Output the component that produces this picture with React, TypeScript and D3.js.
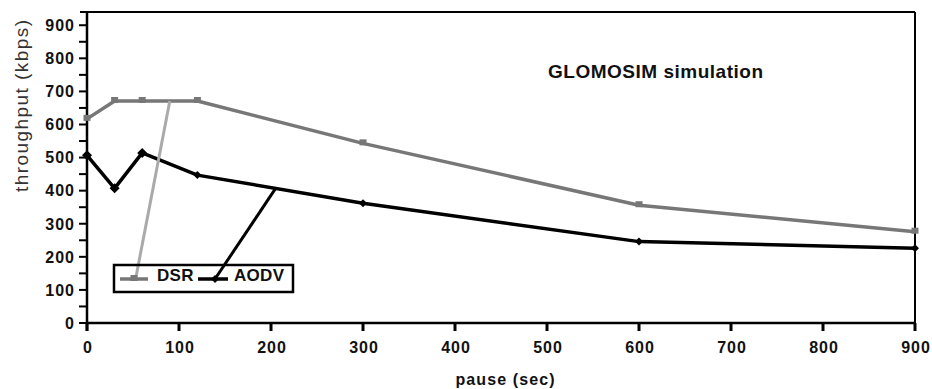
import React from 'react';
import * as d3 from 'd3';

// pause time (sec) and throughput (kbps)
const pauses = [0, 30, 60, 120, 300, 600, 900];
const dsr = [617, 671, 671, 671, 543, 356, 276];
const aodv = [507, 407, 514, 447, 362, 246, 226];
const xTicks = [0, 100, 200, 300, 400, 500, 600, 700, 800, 900];
const yTicks = [0, 100, 200, 300, 400, 500, 600, 700, 800, 900];
const yMinor = d3.range(0, 901, 50);
// where the legend leader lines touch each series (pause value)
const dsrLeaderAt = 90;
const aodvLeaderAt = 205;

const W = 932;
const H = 389;
const FONT = 'Liberation Sans, Arial, sans-serif';

const App: React.FC = () => {
  const x = d3.scaleLinear().domain([0, 900]).range([87, 915]);
  const y = d3.scaleLinear().domain([0, 940]).range([323, 12]);

  const line = d3.line<number>()
    .x((d, i) => x(pauses[i]))
    .y(d => y(d));

  const interp = (vals: number[], p: number) => {
    const i = d3.bisectRight(pauses, p) - 1;
    const t = (p - pauses[i]) / (pauses[i + 1] - pauses[i]);
    return vals[i] + t * (vals[i + 1] - vals[i]);
  };

  const [x0, x1] = x.range();
  const [yb, yt] = y.range();

  // legend geometry
  const lg = { x: 114, y: 265, w: 179, h: 27 };
  const ly = lg.y + 14;
  const dsrSample = [lg.x + 6, lg.x + 34];
  const aodvSample = [lg.x + 84, lg.x + 114];
  const dsrMid = (dsrSample[0] + dsrSample[1]) / 2;
  const aodvMid = (aodvSample[0] + aodvSample[1]) / 2 + 2;

  const diamond = (cx: number, cy: number, r: number) =>
    `M${cx},${cy - r}L${cx + r},${cy}L${cx},${cy + r}L${cx - r},${cy}Z`;

  return (
    <svg width={W} height={H} style={{ position: 'absolute', left: 0, top: 0, background: '#fff' }}>
      {/* frame */}
      <line x1={80} x2={x1} y1={yt} y2={yt} stroke="#000" strokeWidth={2} />
      <line x1={x1} x2={x1} y1={yt} y2={yb} stroke="#000" strokeWidth={2} />

      {/* y axis */}
      <line x1={x0} x2={x0} y1={yt} y2={yb + 8} stroke="#000" strokeWidth={2.5} />
      {yMinor.map(v => (
        <line key={'ym' + v} x1={x0 - 8} x2={x0} y1={y(v)} y2={y(v)} stroke="#000" strokeWidth={2} />
      ))}
      {yTicks.map(v => (
        <text key={'yl' + v} x={75} y={y(v)} dy="0.36em" textAnchor="end"
          fontFamily={FONT} fontWeight="bold" fontSize={16} letterSpacing={1} fill="#111">
          {v}
        </text>
      ))}

      {/* x axis */}
      <line x1={x0} x2={x1} y1={yb} y2={yb} stroke="#000" strokeWidth={2.5} />
      {xTicks.map(v => (
        <line key={'xt' + v} x1={x(v)} x2={x(v)} y1={yb} y2={yb + 8} stroke="#000" strokeWidth={3} />
      ))}
      {xTicks.map(v => (
        <text key={'xl' + v} x={x(v) + 1} y={353} textAnchor="middle"
          fontFamily={FONT} fontWeight="bold" fontSize={16} letterSpacing={1} fill="#111">
          {v}
        </text>
      ))}

      {/* axis titles */}
      <text x={505} y={385} textAnchor="middle" fontFamily={FONT} fontWeight="bold"
        fontSize={16} textLength={99} lengthAdjust="spacing" fill="#111">
        pause (sec)
      </text>
      <text transform="translate(28,106) rotate(-90)" textAnchor="middle" fontFamily={FONT}
        fontSize={19} textLength={172} lengthAdjust="spacing" fill="#333">
        throughput (kbps)
      </text>

      <text x={548} y={78} fontFamily={FONT} fontWeight="bold" fontSize={19}
        textLength={215} lengthAdjust="spacing" fill="#111">
        GLOMOSIM simulation
      </text>

      {/* series */}
      <path d={line(dsr) || ''} fill="none" stroke="#777" strokeWidth={3.5} strokeLinejoin="round" />
      {dsr.map((v, i) => (
        <rect key={'dm' + i} x={x(pauses[i]) - 3.5} y={y(v) - 4} width={7} height={6} fill="#777" />
      ))}
      <path d={line(aodv) || ''} fill="none" stroke="#000" strokeWidth={3.5} strokeLinejoin="round" />
      {aodv.map((v, i) => (
        <path key={'am' + i} d={diamond(x(pauses[i]), y(v), i < 3 ? 5 : 4)} fill="#000" />
      ))}

      {/* legend leader lines */}
      <line x1={dsrMid + 2} y1={ly - 2} x2={x(dsrLeaderAt)} y2={y(interp(dsr, dsrLeaderAt))}
        stroke="#aaa" strokeWidth={3} />
      <line x1={aodvMid} y1={ly} x2={x(aodvLeaderAt)} y2={y(interp(aodv, aodvLeaderAt))}
        stroke="#000" strokeWidth={3} />

      {/* legend */}
      <rect x={lg.x} y={lg.y} width={lg.w} height={lg.h} fill="none" stroke="#000" strokeWidth={2.5} />
      <line x1={dsrSample[0]} x2={dsrSample[1]} y1={ly} y2={ly} stroke="#777" strokeWidth={3.5} />
      <rect x={dsrMid - 3.5} y={ly - 4} width={7} height={6} fill="#777" />
      <text x={157} y={281} fontFamily={FONT} fontWeight="bold" fontSize={17} letterSpacing={0.3} fill="#111">DSR</text>
      <line x1={aodvSample[0]} x2={aodvSample[1]} y1={ly} y2={ly} stroke="#000" strokeWidth={3.5} />
      <path d={diamond(aodvMid, ly, 4)} fill="#000" />
      <text x={234} y={281} fontFamily={FONT} fontWeight="bold" fontSize={17} letterSpacing={0.3} fill="#111">AODV</text>
    </svg>
  );
};

export default App;
